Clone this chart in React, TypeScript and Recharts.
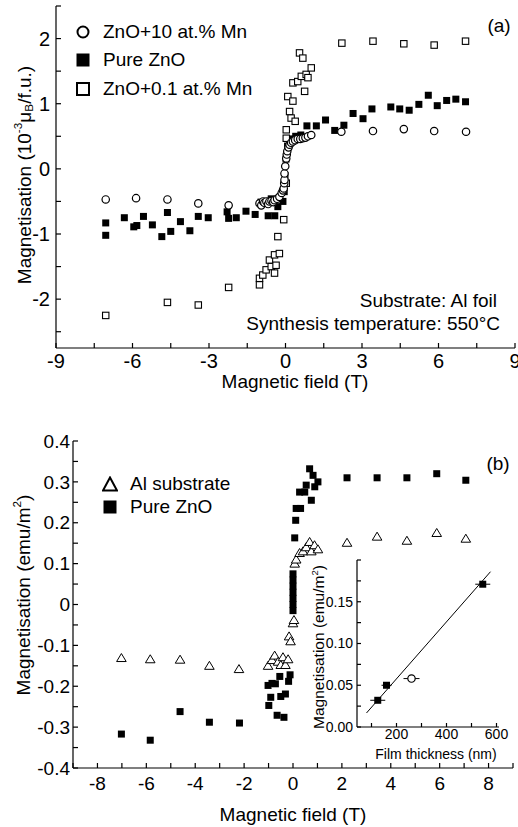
import React from "react";
import { ScatterChart, Scatter, XAxis, YAxis, ErrorBar } from "recharts";

const FONT = '"Liberation Sans", Arial, Helvetica, sans-serif';

// ---- panel (a): field (T) vs magnetisation (1e-3 muB/f.u.)
const A_X_TICKS = [-9, -7.5, -6, -4.5, -3, -1.5, 0, 1.5, 3, 4.5, 6, 7.5, 9];
const A_X_LABELS = [-9, -6, -3, 0, 3, 6, 9];
const A_Y_TICKS = [-2.5, -2, -1.5, -1, -0.5, 0, 0.5, 1, 1.5, 2, 2.5];
const A_Y_LABELS = [-2, -1, 0, 1, 2];

const mn10Pts = [
  [-7.05, -0.47], [-5.86, -0.45], [-4.63, -0.47], [-3.42, -0.53], [-2.23, -0.56],
  [-1.02, -0.53], [-0.95, -0.56], [-0.88, -0.5], [-0.83, -0.52], [-0.75, -0.5],
  [-0.68, -0.54], [-0.63, -0.5], [-0.55, -0.49], [-0.48, -0.51], [-0.43, -0.48],
  [-0.33, -0.46], [-0.24, -0.43], [-0.15, -0.37], [-0.1, -0.33], [-0.07, -0.3],
  [-0.05, -0.22], [-0.04, -0.17], [-0.04, -0.07], [-0.01, 0.04], [0.03, 0.16],
  [0.05, 0.22], [0.07, 0.27], [0.12, 0.33], [0.16, 0.37], [0.22, 0.4],
  [0.29, 0.42], [0.38, 0.44], [0.48, 0.46], [0.58, 0.46], [0.68, 0.47],
  [0.78, 0.48], [0.88, 0.5], [1.01, 0.52],
  [2.19, 0.57], [3.43, 0.58], [4.64, 0.61], [5.83, 0.58], [7.08, 0.57],
];

const pureAPts = [
  [-7.05, -0.83], [-7.05, -1.02], [-6.32, -0.75], [-5.95, -0.89], [-5.83, -0.87],
  [-5.57, -0.73], [-5.22, -0.86], [-4.85, -1.04], [-4.63, -0.67], [-4.5, -0.96],
  [-4.12, -0.81], [-3.75, -0.95], [-3.42, -0.73], [-3.03, -0.75], [-2.29, -0.66],
  [-2.23, -0.76], [-1.93, -0.75], [-1.55, -0.65], [-1.19, -0.7], [-0.96, -0.51],
  [-0.68, -0.72], [-0.56, -0.46], [-0.42, -0.72], [-0.3, -0.58], [-0.1, -0.5],
  [-0.05, -0.35], [-0.02, -0.1], [0.02, 0.15], [0.08, 0.35], [0.2, 0.46],
  [0.4, 0.5], [0.6, 0.52],
  [0.84, 0.66], [1.21, 0.66], [1.57, 0.75], [1.93, 0.59], [2.29, 0.67],
  [2.65, 0.85], [3.04, 0.77], [3.39, 0.92], [4.13, 0.95], [4.48, 0.92],
  [4.85, 0.9], [5.23, 0.99], [5.6, 1.13], [5.95, 0.97], [6.32, 1.05],
  [6.68, 1.07], [7.06, 1.03],
];

const mn01Pts = [
  [-7.05, -2.25], [-4.63, -2.05], [-3.42, -2.09], [-2.23, -1.82],
  [-1.02, -1.78], [-1.02, -1.68], [-0.89, -1.63], [-0.76, -1.55], [-0.63, -1.4],
  [-0.56, -1.5], [-0.43, -1.6], [-0.43, -1.32], [-0.37, -1.48], [-0.3, -1.04],
  [-0.24, -1.3], [-0.07, -0.78], [0.03, -0.22], [0.03, 0.47], [0.03, 0.6],
  [0.16, 0.88], [0.22, 0.78], [0.38, 0.73], [0.09, 1.11], [0.29, 1.04],
  [0.29, 1.32], [0.48, 1.34], [0.62, 1.42], [0.75, 1.19], [0.81, 1.45],
  [0.88, 1.4], [1.01, 1.55], [0.55, 1.78], [0.68, 1.7],
  [2.21, 1.93], [3.43, 1.96], [4.64, 1.92], [5.83, 1.9], [7.06, 1.96],
];

// ---- panel (b): field (T) vs magnetisation (emu/m^2)
const B_X_TICKS = [-9, -8, -7, -6, -5, -4, -3, -2, -1, 0, 1, 2, 3, 4, 5, 6, 7, 8, 9];
const B_X_LABELS = [-8, -6, -4, -2, 0, 2, 4, 6, 8];
const B_Y_TICKS = [-0.4, -0.35, -0.3, -0.25, -0.2, -0.15, -0.1, -0.05, 0, 0.05, 0.1, 0.15, 0.2, 0.25, 0.3, 0.35, 0.4];
const B_Y_LABELS = [-0.4, -0.3, -0.2, -0.1, 0, 0.1, 0.2, 0.3, 0.4];

const alSubPts = [
  [-7.02, -0.131], [-5.84, -0.134], [-4.62, -0.135], [-3.42, -0.15], [-2.21, -0.158],
  [-1.02, -0.15], [-0.86, -0.136], [-0.75, -0.125], [-0.61, -0.14], [-0.5, -0.148],
  [-0.41, -0.129], [-0.31, -0.148], [-0.2, -0.134], [-0.16, -0.078], [-0.1, -0.09],
  [0.0, -0.046], [0.04, -0.038], [0.07, 0.1], [0.13, 0.11], [0.27, 0.126],
  [0.41, 0.13], [0.54, 0.14], [0.68, 0.153], [0.75, 0.13], [0.88, 0.145], [1.02, 0.135],
  [2.21, 0.151], [3.44, 0.166], [4.66, 0.156], [5.88, 0.175], [7.07, 0.161],
];

const pureBPts = [
  [-7.02, -0.317], [-5.84, -0.332], [-4.62, -0.262], [-3.42, -0.288], [-2.19, -0.29],
  [-1.02, -0.198], [-0.99, -0.247], [-0.91, -0.227], [-0.86, -0.193], [-0.72, -0.194],
  [-0.65, -0.271], [-0.54, -0.176], [-0.5, -0.225], [-0.37, -0.276], [-0.31, -0.219],
  [-0.18, -0.188], [-0.12, -0.172],
  [0.0, -0.015], [0.0, 0.0], [0.0, 0.015], [0.0, 0.03], [0.0, 0.045], [0.0, 0.06], [0.0, 0.075],
  [0.07, 0.163], [0.11, 0.206], [0.13, 0.235], [0.27, 0.275], [0.31, 0.235],
  [0.48, 0.275], [0.54, 0.292], [0.68, 0.332], [0.75, 0.255], [0.82, 0.316],
  [0.89, 0.288], [1.02, 0.3],
  [2.21, 0.31], [3.44, 0.31], [4.66, 0.31], [5.88, 0.32], [7.07, 0.304],
];

// ---- inset: film thickness (nm) vs magnetisation (emu/m^2)
const IN_X_TICKS = [100, 200, 300, 400, 500, 600];
const IN_X_LABELS = [200, 400, 600];
const IN_Y_TICKS = [0, 0.025, 0.05, 0.075, 0.1, 0.125, 0.15, 0.175, 0.2];
const IN_Y_LABELS = [0, 0.05, 0.1, 0.15];
const insetSquares = [[125, 0.032, 30], [160, 0.05, 20], [545, 0.171, 30]];
const insetCircles = [[260, 0.058, 32]];
const fitLine = [[80, 0.0168], [576, 0.186]];

const toXY = (arr: number[][]) => arr.map(([x, y]) => ({ x, y }));
const toXYE = (arr: number[][]) => arr.map(([x, y, ex]) => ({ x, y, ex }));

const FilledSquare = (p: any) => (
  <rect x={p.cx - 3.5} y={p.cy - 3.5} width={7} height={7} fill="#000" />
);
const OpenSquare = (p: any) => (
  <rect x={p.cx - 3.2} y={p.cy - 3.2} width={6.4} height={6.4} fill="#fff" stroke="#000" strokeWidth={1.1} />
);
const OpenCircle = (p: any) => (
  <circle cx={p.cx} cy={p.cy} r={3.7} fill="#fff" stroke="#000" strokeWidth={1.2} />
);
const OpenTriangle = (p: any) => (
  <polygon
    points={`${p.cx},${p.cy - 4.5} ${p.cx + 4.8},${p.cy + 3.5} ${p.cx - 4.8},${p.cy + 3.5}`}
    fill="#fff" stroke="#000" strokeWidth={1}
  />
);
const Nothing = () => <g />;

const fmt = (labels: number[], f: (v: number) => string) => (v: number) =>
  labels.some((l) => Math.abs(l - v) < 1e-9) ? f(v) : "";

const axisStyle = { stroke: "#000", strokeWidth: 1.2 };

function Txt({ x, y, size, children, anchor = "center" }: any) {
  const tx = anchor === "center" ? "-50%" : anchor === "end" ? "-100%" : "0";
  return (
    <div
      style={{
        position: "absolute", left: x, top: y, whiteSpace: "nowrap",
        fontFamily: FONT, fontSize: size, lineHeight: 1, color: "#000",
        transform: `translate(${tx}, -50%)`,
      }}
    >
      {children}
    </div>
  );
}

function Rot({ x, y, size, children }: any) {
  return (
    <div
      style={{
        position: "absolute", left: x, top: y, whiteSpace: "nowrap",
        fontFamily: FONT, fontSize: size, lineHeight: 1, color: "#000",
        transform: "translate(-50%, -50%) rotate(-90deg)",
      }}
    >
      {children}
    </div>
  );
}

const sup = { fontSize: "0.62em", verticalAlign: "0.7em", lineHeight: 0 };
const sub = { fontSize: "0.62em", verticalAlign: "-0.25em", lineHeight: 0 };

function LegendMarker({ kind }: { kind: string }) {
  return (
    <svg width={16} height={16} style={{ display: "block" }}>
      {kind === "circle" && <circle cx={8} cy={8} r={5.5} fill="#fff" stroke="#000" strokeWidth={2} />}
      {kind === "filled" && <rect x={1.5} y={1.5} width={13} height={13} fill="#000" />}
      {kind === "open" && <rect x={2} y={2} width={12} height={12} fill="#fff" stroke="#000" strokeWidth={2} />}
      {kind === "tri" && <polygon points="8,1.5 15,14.5 1,14.5" fill="#fff" stroke="#000" strokeWidth={2} />}
    </svg>
  );
}

function LegendRow({ x, y, kind, label }: any) {
  return (
    <div style={{ position: "absolute", left: x - 8, top: y - 8, display: "flex", alignItems: "center" }}>
      <LegendMarker kind={kind} />
      <span style={{ fontFamily: FONT, fontSize: 19, marginLeft: 12, lineHeight: 1, whiteSpace: "nowrap" }}>{label}</span>
    </div>
  );
}

export default function App() {
  return (
    <div style={{ position: "absolute", left: 0, top: 0, width: 518, height: 827, background: "#fff", overflow: "hidden" }}>
      {/* panel (a) */}
      <div style={{ position: "absolute", left: 0, top: 0 }}>
        <ScatterChart width={518} height={400} margin={{ top: 6, right: 3, bottom: 22, left: 6 }}>
          <XAxis
            xAxisId={0} dataKey="x" type="number" domain={[-9, 9]} ticks={A_X_TICKS} interval={0}
            allowDataOverflow height={30} tickSize={-5} tickMargin={11}
            axisLine={axisStyle} tickLine={axisStyle}
            tick={{ fill: "#000", fontSize: 20, fontFamily: FONT }}
            tickFormatter={fmt(A_X_LABELS, (v) => String(v))}
          />
          <XAxis
            xAxisId="top" orientation="top" type="number" domain={[-9, 9]} ticks={A_X_TICKS} interval={0}
            allowDataOverflow height={0} tickSize={-5} tick={false}
            axisLine={axisStyle} tickLine={axisStyle}
          />
          <YAxis
            yAxisId={0} dataKey="y" type="number" domain={[-2.75, 2.5]} ticks={A_Y_TICKS} interval={0}
            allowDataOverflow width={50} tickSize={-5} tickMargin={11}
            axisLine={axisStyle} tickLine={axisStyle}
            tick={{ fill: "#000", fontSize: 20, fontFamily: FONT }}
            tickFormatter={fmt(A_Y_LABELS, (v) => String(v))}
          />
          <YAxis
            yAxisId="right" orientation="right" type="number" domain={[-2.75, 2.5]} ticks={A_Y_TICKS} interval={0}
            allowDataOverflow width={0} tickSize={-5} tick={false}
            axisLine={axisStyle} tickLine={axisStyle}
          />
          <Scatter name="Pure ZnO" data={toXY(pureAPts)} shape={FilledSquare} isAnimationActive={false} />
          <Scatter name="ZnO+0.1 at.% Mn" data={toXY(mn01Pts)} shape={OpenSquare} isAnimationActive={false} />
          <Scatter name="ZnO+10 at.% Mn" data={toXY(mn10Pts)} shape={OpenCircle} isAnimationActive={false} />
        </ScatterChart>
      </div>

      <LegendRow x={83} y={30} kind="circle" label="ZnO+10 at.% Mn" />
      <LegendRow x={83} y={58} kind="filled" label="Pure ZnO" />
      <LegendRow x={83} y={87} kind="open" label="ZnO+0.1 at.% Mn" />
      <Txt x={499} y={25} size={19}>(a)</Txt>
      <Txt x={497} y={300} size={19} anchor="end">Substrate: Al foil</Txt>
      <Txt x={500} y={323} size={19} anchor="end">Synthesis temperature: 550°C</Txt>
      <Txt x={295} y={381} size={19}>Magnetic field (T)</Txt>
      <Rot x={24} y={175} size={19}>
        Magnetisation (10<span style={sup}>-3</span>μ<span style={sub}>B</span>/f.u.)
      </Rot>

      {/* panel (b) */}
      <div style={{ position: "absolute", left: 0, top: 420 }}>
        <ScatterChart width={518} height={407} margin={{ top: 21, right: 5, bottom: 29, left: 13 }}>
          <XAxis
            xAxisId={0} dataKey="x" type="number" domain={[-9, 9]} ticks={B_X_TICKS} interval={0}
            allowDataOverflow height={30} tickSize={-5} tickMargin={14}
            axisLine={axisStyle} tickLine={axisStyle}
            tick={{ fill: "#000", fontSize: 19, fontFamily: FONT }}
            tickFormatter={fmt(B_X_LABELS, (v) => String(v))}
          />
          <XAxis
            xAxisId="top" orientation="top" type="number" domain={[-9, 9]} ticks={B_X_TICKS} interval={0}
            allowDataOverflow height={0} tickSize={-5} tick={false}
            axisLine={axisStyle} tickLine={axisStyle}
          />
          <YAxis
            yAxisId={0} dataKey="y" type="number" domain={[-0.4, 0.4]} ticks={B_Y_TICKS} interval={0}
            allowDataOverflow width={60} tickSize={-5} tickMargin={8}
            axisLine={axisStyle} tickLine={axisStyle}
            tick={{ fill: "#000", fontSize: 19, fontFamily: FONT }}
            tickFormatter={fmt(B_Y_LABELS, (v) => (Math.abs(v) < 1e-9 ? "0" : v.toFixed(1)))}
          />
          <YAxis
            yAxisId="right" orientation="right" type="number" domain={[-0.4, 0.4]} ticks={B_Y_TICKS} interval={0}
            allowDataOverflow width={0} tickSize={-5} tick={false}
            axisLine={axisStyle} tickLine={axisStyle}
          />
          <Scatter name="Al substrate" data={toXY(alSubPts)} shape={OpenTriangle} isAnimationActive={false} />
          <Scatter name="Pure ZnO" data={toXY(pureBPts)} shape={FilledSquare} isAnimationActive={false} />
        </ScatterChart>
      </div>

      <LegendRow x={110} y={482} kind="tri" label="Al substrate" />
      <LegendRow x={110} y={505} kind="filled" label="Pure ZnO" />
      <Txt x={498} y={463} size={19}>(b)</Txt>
      <Txt x={293} y={814} size={19}>Magnetic field (T)</Txt>
      <Rot x={23} y={595} size={19}>
        Magnetisation (emu/m<span style={sup}>2</span>)
      </Rot>

      {/* inset */}
      <div style={{ position: "absolute", left: 300, top: 550 }}>
        <ScatterChart width={210} height={210} margin={{ top: 10, right: 11, bottom: 13, left: 7 }}>
          <XAxis
            xAxisId={0} dataKey="x" type="number" domain={[42, 610]} ticks={IN_X_TICKS} interval={0}
            allowDataOverflow height={20} tickSize={-4} tickMargin={6}
            axisLine={axisStyle} tickLine={axisStyle}
            tick={{ fill: "#000", fontSize: 14, fontFamily: FONT }}
            tickFormatter={fmt(IN_X_LABELS, (v) => String(v))}
          />
          <XAxis
            xAxisId="top" orientation="top" type="number" domain={[42, 610]} ticks={IN_X_TICKS} interval={0}
            allowDataOverflow height={0} tickSize={-4} tick={false}
            axisLine={axisStyle} tickLine={axisStyle}
          />
          <YAxis
            yAxisId={0} dataKey="y" type="number" domain={[0, 0.2]} ticks={IN_Y_TICKS} interval={0}
            allowDataOverflow width={50} tickSize={-4} tickMargin={8}
            axisLine={axisStyle} tickLine={axisStyle}
            tick={{ fill: "#000", fontSize: 14, fontFamily: FONT }}
            tickFormatter={fmt(IN_Y_LABELS, (v) => v.toFixed(2))}
          />
          <YAxis
            yAxisId="right" orientation="right" type="number" domain={[0, 0.2]} ticks={IN_Y_TICKS} interval={0}
            allowDataOverflow width={0} tickSize={-4} tick={false}
            axisLine={axisStyle} tickLine={axisStyle}
          />
          <Scatter data={toXY(fitLine)} line={{ stroke: "#000", strokeWidth: 1 }} shape={Nothing} isAnimationActive={false} />
          <Scatter data={toXYE(insetCircles)} shape={OpenCircle} isAnimationActive={false}>
            <ErrorBar dataKey="ex" direction="x" width={0} stroke="#000" strokeWidth={1} isAnimationActive={false} />
          </Scatter>
          <Scatter data={toXYE(insetSquares)} shape={FilledSquare} isAnimationActive={false}>
            <ErrorBar dataKey="ex" direction="x" width={0} stroke="#000" strokeWidth={1} isAnimationActive={false} />
          </Scatter>
        </ScatterChart>
      </div>
      <Txt x={436} y={754} size={14}>Film thickness (nm)</Txt>
      <Rot x={319} y={647} size={15.5}>
        Magnetisation (emu/m<span style={sup}>2</span>)
      </Rot>
    </div>
  );
}
